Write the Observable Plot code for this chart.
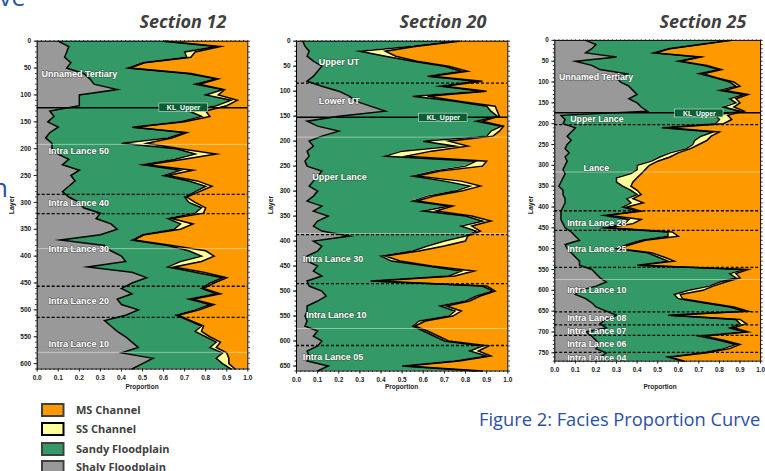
<!DOCTYPE html>
<html><head><meta charset="utf-8">
<script src="https://cdn.jsdelivr.net/npm/d3@7"></script>
<script src="https://cdn.jsdelivr.net/npm/@observablehq/plot@0.6"></script>
<style>
body{margin:0;background:#fff;}
#root{position:relative;width:765px;height:471px;overflow:hidden;background:#fff;}
.panel{position:absolute;top:0;}
#overlay{position:absolute;left:0;top:0;pointer-events:none;}
</style></head>
<body><div id="root"></div>
<script>
// ---------- data ----------
const faciesNames = ["Shaly Floodplain", "Sandy Floodplain", "SS Channel", "MS Channel"];
const faciesColors = ["#999999", "#339966", "#FFFF99", "#FF9900"];
const layerStep = 10;

// Section 12 (cumulative proportion at right edge of each facies), layers 0..610
const s12_shaly = [.10,.15,.14,.13,.16,.14,.22,.25,.27,.38, .20,.20,.20,.06,.08,.05,.10,.06,.04,.07, .07,.10,.15,.12,.20,.16,.18,.15,.12,.15, .20,.22,.30,.28,.35,.38,.30,.11,.32,.35, .40,.42,.24,.45,.52,.45,.40,.45,.38,.40, .48,.42,.32,.35,.38,.42,.45,.48,.40,.55, .50,.45];
const s12_sandy = [.60,.85,.70,.71,.50,.43,.71,.85,.75,.88, .80,.92,.85,.72,.78,.68,.45,.70,.62,.40, .66,.75,.65,.50,.68,.60,.72,.80,.75,.70, .72,.78,.75,.62,.68,.65,.50,.45,.62,.72, .78,.68,.62,.75,.88,.82,.78,.85,.72,.82, .75,.66,.72,.78,.75,.80,.85,.82,.88,.85, .88,.92];
const s12_ss    = [.61,.87,.75,.73,.51,.44,.73,.86,.77,.89, .86,.95,.90,.80,.82,.70,.46,.71,.64,.52, .68,.85,.69,.52,.74,.62,.76,.83,.77,.71, .75,.80,.79,.64,.74,.68,.51,.46,.64,.80, .84,.78,.65,.79,.90,.84,.79,.87,.74,.84, .77,.67,.73,.79,.78,.82,.87,.85,.90,.91, .91,.94];

// Section 20, layers 0..660
const s20_shaly = [.03,.04,.06,.05,.08,.12,.10,.08,.05,.12, .20,.25,.28,.35,.42,.20,.05,.10,.20,.12, .06,.08,.05,.06,.04,.05,.12,.10,.08,.06, .10,.08,.05,.12,.08,.15,.10,.08,.12,.25, .08,.12,.10,.05,.05,.10,.08,.12,.05,.06, .12,.14,.10,.05,.05,.04,.05,.04,.10,.08, .12,.10,.05,.06,.05,.15,.10];
const s20_sandy = [.75,.55,.30,.42,.55,.70,.78,.62,.85,.68, .88,.55,.75,.90,.92,.95,.85,.97,.92,.90, .60,.75,.50,.42,.85,.80,.65,.55,.70,.82, .75,.62,.55,.72,.60,.80,.88,.78,.85,.80, .70,.62,.55,.40,.45,.62,.78,.72,.35,.88, .93,.85,.80,.68,.75,.72,.58,.55,.60,.65, .70,.88,.82,.90,.75,.50,.85];
const s20_ss    = [.77,.57,.42,.47,.57,.72,.81,.64,.88,.70, .90,.62,.77,.94,.95,.96,.88,.98,.96,.93, .72,.81,.64,.52,.90,.88,.68,.57,.78,.87, .78,.65,.57,.74,.66,.83,.92,.83,.87,.81, .80,.70,.58,.42,.49,.64,.84,.75,.37,.90, .94,.87,.82,.71,.78,.74,.61,.56,.62,.67, .72,.91,.86,.92,.77,.52,.88];

// Section 25, layers 0..770
const s25_shaly = [.15,.20,.18,.15,.30,.10,.18,.22,.35,.30, .32,.36,.38,.40,.36,.40,.42,.45,.03,.05, .04,.10,.08,.06,.08,.06,.05,.07,.05,.06, .05,.04,.05,.04,.03,.02,.04,.04,.05,.05, .04,.03,.03,.03,.04,.05,.08,.10,.12,.05, .06,.08,.10,.12,.12,.18,.20,.22,.25,.20, .12,.10,.15,.18,.20,.25,.30,.25,.22,.25, .15,.18,.20,.22,.20,.25,.22,.20];
const s25_sandy = [.85,.70,.55,.48,.70,.60,.72,.80,.70,.78, .85,.88,.80,.92,.85,.88,.82,.90,.78,.80, .78,.52,.77,.71,.68,.67,.64,.56,.51,.47, .40,.40,.37,.30,.30,.33,.37,.40,.35,.37, .33,.40,.24,.36,.34,.24,.55,.55,.42,.35, .30,.45,.50,.55,.40,.92,.85,.88,.80,.75, .65,.58,.60,.72,.85,.92,.55,.88,.90,.85, .92,.70,.80,.88,.82,.72,.55,.62];
const s25_ss    = [.86,.71,.56,.49,.71,.61,.74,.81,.72,.79, .87,.90,.83,.94,.88,.90,.87,.92,.84,.86, .82,.55,.80,.76,.74,.70,.66,.60,.56,.50, .46,.44,.42,.40,.38,.37,.40,.42,.38,.43, .35,.42,.26,.42,.38,.26,.57,.60,.44,.37, .31,.47,.53,.58,.41,.94,.88,.90,.83,.77, .72,.61,.62,.74,.87,.94,.56,.90,.93,.87, .94,.73,.82,.90,.85,.74,.56,.63];

// Zone annotations
const s12_zones = [{name:"Unnamed Tertiary",layer:62,x:.02},{name:"Intra Lance 50",layer:205,x:.054},{name:"Intra Lance 40",layer:302,x:.054},{name:"Intra Lance 30",layer:387,x:.054},{name:"Intra Lance 20",layer:484,x:.054},{name:"Intra Lance 10",layer:564,x:.054}];
const s20_zones = [{name:"Upper UT",layer:42,x:.105},{name:"Lower UT",layer:120,x:.105},{name:"Upper Lance",layer:271,x:.075},{name:"Intra Lance 30",layer:437,x:.03},{name:"Intra Lance 10",layer:549,x:.045},{name:"Intra Lance 05",layer:633,x:.03}];
const s25_zones = [{name:"Unnamed Tertiary",layer:89,x:.02},{name:"Upper Lance",layer:190,x:.075},{name:"Lance",layer:306,x:.14},{name:"Intra Lance 28",layer:439,x:.06},{name:"Intra Lance 25",layer:502,x:.06},{name:"Intra Lance 10",layer:600,x:.06},{name:"Intra Lance 08",layer:668,x:.06},{name:"Intra Lance 07",layer:697,x:.06},{name:"Intra Lance 06",layer:730,x:.06},{name:"Intra Lance 04",layer:764,x:.06}];
const s12_dashed = [285, 321, 456, 514];
const s20_dashed = [84, 387, 485, 609];
const s25_dashed = [202, 409, 456, 545, 652, 683, 708, 749];
const s12_faint = [192, 386, 579];
const s20_faint = [192, 385, 575];
const s25_faint = [316, 574];
const s12_kl = {layer:124, x1:.58, x2:.81, y1:116, y2:132};
const s20_kl = {layer:152, x1:.58, x2:.81, y1:145, y2:162};
const s25_kl = {layer:174, x1:.585, x2:.82, y1:166, y2:185};

// ---------- build ----------
function buildRows(shaly, sandy, ss) {
  const rows = [];
  shaly.forEach((_, i) => {
    const e = [0, shaly[i], sandy[i], ss[i], 1];
    faciesNames.forEach((f, k) => rows.push({layer: i * layerStep, facies: f, x1: e[k], x2: e[k + 1]}));
  });
  return rows;
}

function panel(o) {
  const rows = buildRows(o.shaly, o.sandy, o.ss);
  const maxLayer = (o.shaly.length - 1) * layerStep;
  const yTicks = d3.range(0, maxLayer + 1, 50);
  const yMinor = d3.range(0, maxLayer + 1, 10);
  const xTicks = d3.range(0, 11).map(i => i / 10);
  const xMinor = d3.range(0, 51).map(i => i / 50);
  const curve = "linear";
  const svg = Plot.plot({
    width: o.width, height: o.height,
    marginLeft: o.ml, marginRight: o.mr, marginTop: o.mt, marginBottom: o.mb,
    x: {domain: [0, 1], axis: null},
    y: {domain: [0, maxLayer], reverse: true, axis: null},
    color: {type: "ordinal", domain: faciesNames, range: faciesColors},
    style: {fontFamily: "'Liberation Sans', Arial, sans-serif", fontSize: "6.5px", fontWeight: "bold", color: "#222", background: "transparent", overflow: "visible"},
    marks: [
      Plot.areaX(rows, {y: "layer", x1: "x1", x2: "x2", fill: "facies", z: "facies", curve}),
      Plot.lineX(rows.filter(d => d.facies !== "MS Channel"), {y: "layer", x: "x2", z: "facies", stroke: "#000", strokeWidth: 1.5, strokeLinejoin: "miter", strokeMiterlimit: 8, curve}),
      Plot.ruleY(o.faint, {stroke: "white", strokeOpacity: 0.45, strokeWidth: 1}),
      Plot.ruleY(o.dashed, {stroke: "#000", strokeWidth: 1.3, strokeDasharray: "3,2"}),
      Plot.ruleY([o.kl.layer], {stroke: "#000", strokeWidth: 1.5}),
      Plot.rect([o.kl], {x1: "x1", x2: "x2", y1: "y1", y2: "y2", fill: "#0b5d35", stroke: "#d8e8d8", strokeWidth: 0.6}),
      Plot.text([o.kl], {x: d => (d.x1 + d.x2) / 2, y: d => (d.y1 + d.y2) / 2, text: () => "KL_Upper", fill: "white", fontSize: 7, fontWeight: "bold"}),
      Plot.text(o.zones, {x: "x", y: "layer", text: "name", textAnchor: "start", fill: "white", fontSize: 9, fontWeight: "bold", stroke: "#333", strokeOpacity: 0.45, strokeWidth: 1.5}),
      Plot.frame({stroke: "#000", strokeWidth: 1}),
      Plot.axisY({ticks: yTicks, tickSize: 3, tickPadding: 3, tickFormat: "d", label: null}),
      Plot.axisY({ticks: yMinor, tickSize: 1.5, tickFormat: () => "", label: null}),
      Plot.axisY({anchor: "right", ticks: yMinor, tickSize: 1.5, tickFormat: () => "", label: null}),
      Plot.axisX({ticks: xTicks, tickSize: 3, tickPadding: 3, tickFormat: ".1f", label: null}),
      Plot.axisX({ticks: xMinor, tickSize: 1.5, tickFormat: () => "", label: null}),
      Plot.axisX({anchor: "top", ticks: xMinor, tickSize: 1.5, tickFormat: () => "", label: null})
    ]
  });
  const div = document.createElement("div");
  div.className = "panel";
  div.style.left = o.left + "px";
  div.appendChild(svg);
  return div;
}

const root = document.getElementById("root");
root.appendChild(panel({shaly: s12_shaly, sandy: s12_sandy, ss: s12_ss, zones: s12_zones, dashed: s12_dashed, faint: s12_faint, kl: s12_kl,
  left: 0, width: 257, height: 400, ml: 36.7, mr: 9.7, mt: 40.7, mb: 31.5}));
root.appendChild(panel({shaly: s20_shaly, sandy: s20_sandy, ss: s20_ss, zones: s20_zones, dashed: s20_dashed, faint: s20_faint, kl: s20_kl,
  left: 260, width: 257, height: 400, ml: 36, mr: 9.7, mt: 40.7, mb: 29.5}));
root.appendChild(panel({shaly: s25_shaly, sandy: s25_sandy, ss: s25_ss, zones: s25_zones, dashed: s25_dashed, faint: s25_faint, kl: s25_kl,
  left: 520, width: 250, height: 400, ml: 35, mr: 5, mt: 40.7, mb: 32}));

// ---------- overlay texts: titles, axis labels, legend, caption ----------
const titles = [{t: "Section 12", x: 183}, {t: "Section 20", x: 443}, {t: "Section 25", x: 703}];
const layerLabels = [12, 271, 531];
const propLabels = [142, 401.6, 660];
const legendY = [403, 422, 442, 460];
const ov = d3.select(root).append("svg").attr("id", "overlay").attr("width", 765).attr("height", 471);
ov.selectAll("text.title").data(titles).join("text").attr("class", "title")
  .attr("x", d => d.x).attr("y", 28).attr("text-anchor", "middle")
  .attr("font-family", "'Open Sans', sans-serif").attr("font-weight", "bold").attr("font-style", "italic")
  .attr("font-size", 18).attr("fill", "#404040").text(d => d.t);
ov.selectAll("text.layer").data(layerLabels).join("text").attr("class", "layer")
  .attr("transform", d => `translate(${d},205) rotate(-90)`).attr("text-anchor", "middle").attr("dy", "0.35em")
  .attr("font-family", "'Liberation Sans', Arial, sans-serif").attr("font-weight", "bold").attr("font-size", 7).attr("fill", "#222").text("Layer");
ov.selectAll("text.prop").data(propLabels).join("text").attr("class", "prop")
  .attr("x", d => d).attr("y", 389).attr("text-anchor", "middle")
  .attr("font-family", "'Liberation Sans', Arial, sans-serif").attr("font-weight", "bold").attr("font-size", 6.5).attr("fill", "#222").text("Proportion");
const lg = ov.selectAll("g.lg").data(faciesNames.slice().reverse()).join("g").attr("class", "lg")
  .attr("transform", (d, i) => `translate(41,${legendY[i]})`);
lg.append("rect").attr("x", 1).attr("y", 1).attr("width", 21.5).attr("height", 12)
  .attr("fill", d => faciesColors[faciesNames.indexOf(d)])
  .attr("stroke", d => d === "SS Channel" ? "#000" : "#404040").attr("stroke-width", 2);
lg.append("text").attr("x", 35).attr("y", 10.5)
  .attr("font-family", "'Open Sans', sans-serif").attr("font-weight", "bold").attr("font-size", 11).attr("fill", "#404040")
  .text(d => d);
ov.append("text").attr("x", 479).attr("y", 425.5)
  .attr("font-family", "'Open Sans', sans-serif").attr("font-size", 18.3).attr("fill", "#2B50A3")
  .text("Figure 2: Facies Proportion Curve");
ov.append("text").attr("x", -1).attr("y", 6).attr("font-family", "'Open Sans', sans-serif").attr("font-size", 25).attr("fill", "#2B50A3").text("ve");
ov.append("text").attr("x", -8).attr("y", 197).attr("font-family", "'Open Sans', sans-serif").attr("font-size", 26).attr("fill", "#2B50A3").text("n");
</script>
</body></html>
